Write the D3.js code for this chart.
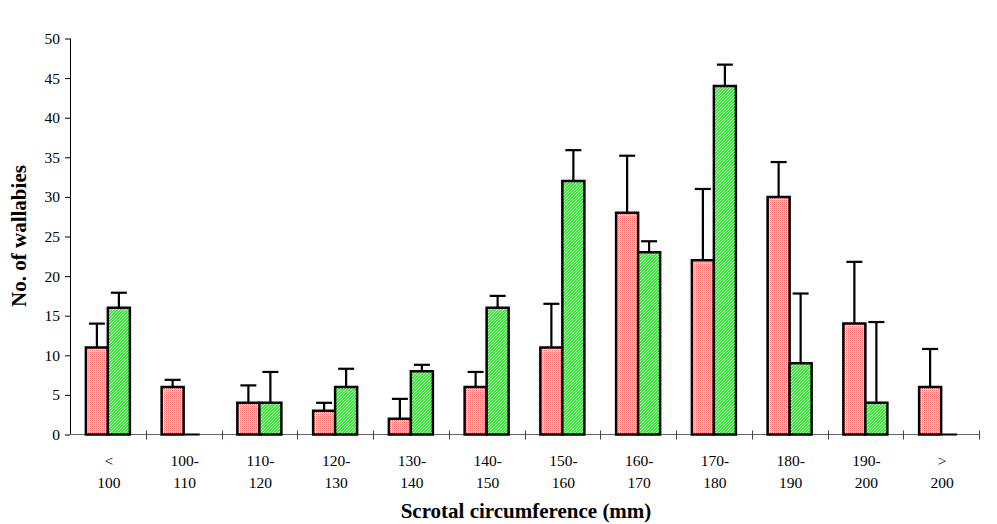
<!DOCTYPE html>
<html><head><meta charset="utf-8">
<script src="https://cdn.jsdelivr.net/npm/d3@7"></script>
<style>body{margin:0;background:#fff}svg{display:block}
svg text{font-family:"Liberation Serif","Times New Roman",Times,"DejaVu Serif",serif}</style>
</head><body>
<svg id="c" width="997" height="524"></svg>
<script>
const categories = [["<","100"],["100-","110"],["110-","120"],["120-","130"],["130-","140"],["140-","150"],["150-","160"],["160-","170"],["170-","180"],["180-","190"],["190-","200"],[">","200"]];
const redValues   = [11, 6, 4, 3, 2, 6, 11, 28, 22, 30, 14, 6];
const redErrTop   = [14, 6.9, 6.2, 4, 4.5, 7.9, 16.5, 35.2, 31, 34.4, 21.8, 10.8];
const greenValues = [16, 0, 4, 6, 8, 16, 32, 23, 44, 9, 4, 0];
const greenErrTop = [17.9, 0, 7.9, 8.3, 8.8, 17.5, 35.9, 24.4, 46.7, 17.8, 14.2, 0];
const yTicks = [0,5,10,15,20,25,30,35,40,45,50];

const svg = d3.select("#c");
const defs = svg.append("defs");
const pr = defs.append("pattern").attr("id","pr").attr("patternUnits","userSpaceOnUse").attr("width",2).attr("height",2);
pr.append("rect").attr("width",2).attr("height",2).attr("fill","#fde4e4");
pr.append("rect").attr("width",1).attr("height",1).attr("fill","#f26a6a");
pr.append("rect").attr("x",1).attr("y",1).attr("width",1).attr("height",1).attr("fill","#f8b8b8");
const pg = defs.append("pattern").attr("id","pg").attr("patternUnits","userSpaceOnUse").attr("width",3).attr("height",3);
pg.append("rect").attr("width",3).attr("height",3).attr("fill","#22f522");
pg.append("rect").attr("x",2).attr("y",0).attr("width",1).attr("height",1).attr("fill","#f0fff0");
pg.append("rect").attr("x",1).attr("y",1).attr("width",1).attr("height",1).attr("fill","#f0fff0");
pg.append("rect").attr("x",0).attr("y",2).attr("width",1).attr("height",1).attr("fill","#f0fff0");

const x0 = 70, x1 = 979, yb = 434.5, yt = 38.5;
const x = d3.scaleBand().domain(d3.range(categories.length)).range([x0,x1]);
const y = d3.scaleLinear().domain([0,50]).range([yb,yt]);
const bw = 22;

const yAxis = svg.append("g").attr("transform",`translate(${x0},0)`)
  .call(d3.axisLeft(y).tickValues(yTicks).tickSize(5).tickPadding(5));
yAxis.attr("font-family",null).attr("font-size",null);
yAxis.select(".domain").attr("stroke","#000").attr("stroke-width",1).attr("d",`M0.5,${yt}V${yb}`);
yAxis.selectAll(".tick line").attr("stroke","#000");
yAxis.selectAll("text").attr("font-size",15.5).attr("fill","#000");

svg.append("line").attr("x1",x0).attr("x2",x1).attr("y1",yb).attr("y2",yb).attr("stroke","#666").attr("stroke-width",1);
const bnds = d3.range(1,categories.length+1).map(i => x0 + i*x.bandwidth());
svg.selectAll(".xt").data(bnds).join("line").attr("x1",d=>Math.round(d)+0.5).attr("x2",d=>Math.round(d)+0.5)
  .attr("y1",yb-4).attr("y2",yb+5).attr("stroke","#444");

const g = svg.append("g");
function bar(cx, v, fill){
  const top = y(v);
  g.append("path").attr("d",`M${cx},${yb}V${top}H${cx+bw}V${yb}Z`).attr("fill",fill).attr("stroke","#000").attr("stroke-width",2.5);
}
function err(cx, v, t){
  if (t <= v) return;
  g.append("line").attr("x1",cx).attr("x2",cx).attr("y1",y(v)).attr("y2",y(t)).attr("stroke","#000").attr("stroke-width",2.2);
  g.append("line").attr("x1",cx-8).attr("x2",cx+8).attr("y1",y(t)).attr("y2",y(t)).attr("stroke","#000").attr("stroke-width",2.2);
}
categories.forEach((c,i)=>{
  const cx = x(i) + x.bandwidth()/2;
  err(cx-bw/2, redValues[i], redErrTop[i]);
  err(cx+bw/2, greenValues[i], greenErrTop[i]);
});
categories.forEach((c,i)=>{
  const cx = x(i) + x.bandwidth()/2;
  bar(cx-bw, redValues[i], "url(#pr)");
  if (greenValues[i] > 0) bar(cx, greenValues[i], "url(#pg)");
  else g.append("line").attr("x1",cx+1).attr("x2",cx+bw-6).attr("y1",yb).attr("y2",yb).attr("stroke","#000").attr("stroke-width",2);
});

const lab = svg.append("g").attr("font-size",15.5).attr("fill","#000").attr("text-anchor","middle");
categories.forEach((c,i)=>{
  const cx = x(i) + x.bandwidth()/2 + 1;
  lab.append("text").attr("x",cx).attr("y",466).text(c[0]);
  lab.append("text").attr("x",cx).attr("y",488).text(c[1]);
});

svg.append("text").attr("x",526).attr("y",518).attr("text-anchor","middle")
  .attr("font-weight","bold").attr("font-size",21).text("Scrotal circumference (mm)");
svg.append("text").attr("transform","translate(26,236) rotate(-90)").attr("text-anchor","middle")
  .attr("font-weight","bold").attr("font-size",21).text("No. of wallabies");
</script>
</body></html>
